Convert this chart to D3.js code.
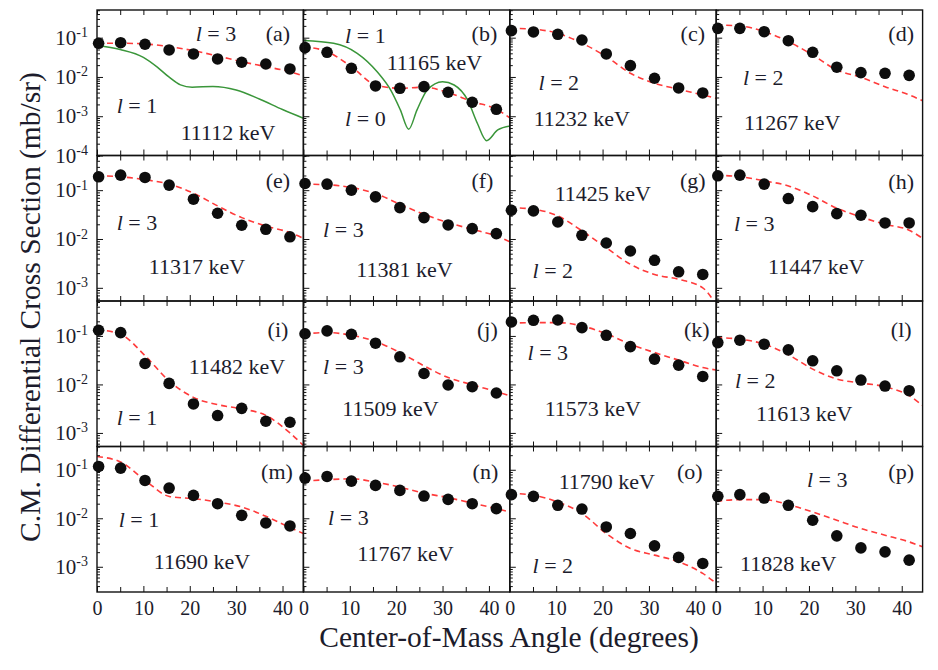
<!DOCTYPE html>
<html><head><meta charset="utf-8">
<script src="https://cdn.jsdelivr.net/npm/d3@7"></script>
<style>
body{margin:0;background:#fff}
svg{display:block}
text{font-family:"Liberation Serif","DejaVu Serif",serif;fill:#1c1c2c}
</style>
</head><body><svg id="c" width="938" height="670"></svg>
<script>
// ---------------- data ----------------
const panelLetters = ["a","b","c","d","e","f","g","h","i","j","k","l","m","n","o","p"];
const energies = ["11112 keV","11165 keV","11232 keV","11267 keV","11317 keV","11381 keV","11425 keV","11447 keV",
                  "11482 keV","11509 keV","11573 keV","11613 keV","11690 keV","11767 keV","11790 keV","11828 keV"];
const lValues = [3,1,2,2,3,3,2,3,1,3,3,2,1,3,2,3];

// measured angles (deg) of the data points
const angles = [0.35, 5.1, 10.35, 15.55, 20.8, 26.0, 31.2, 36.4, 41.6];
// angles at which the DWBA fit curves are sampled
const fitAngles = [0, 5.2, 10.4, 15.6, 20.8, 26.0, 31.2, 36.4, 41.6, 44.5];

// measured cross sections (mb/sr)
const dataA = [0.072, 0.0746, 0.068, 0.0487, 0.0385, 0.0287, 0.0237, 0.0214, 0.016];
const dataB = [0.0557, 0.0425, 0.0166, 0.0059, 0.00515, 0.00566, 0.00408, 0.00227, 0.0015];
const dataC = [0.151, 0.140, 0.122, 0.0873, 0.0385, 0.0194, 0.00927, 0.00525, 0.00392];
const dataD = [0.173, 0.173, 0.142, 0.0839, 0.0425, 0.0177, 0.0129, 0.0124, 0.0110];
const dataE = [0.188, 0.203, 0.182, 0.127, 0.0653, 0.0337, 0.0191, 0.0158, 0.0111];
const dataF = [0.137, 0.133, 0.100, 0.0728, 0.0440, 0.0274, 0.0194, 0.0163, 0.0129];
const dataG = [0.0388, 0.0376, 0.0223, 0.0119, 0.00828, 0.00568, 0.00366, 0.00213, 0.00188];
const dataH = [0.197, 0.203, 0.133, 0.0673, 0.0460, 0.0331, 0.0307, 0.0213, 0.0213];
const dataI = [0.131, 0.117, 0.027, 0.0105, 0.00396, 0.00228, 0.00321, 0.00174, 0.00166];
const dataJ = [0.111, 0.127, 0.108, 0.0708, 0.0371, 0.0168, 0.00973, 0.00897, 0.00665];
const dataK = [0.194, 0.210, 0.213, 0.148, 0.103, 0.0603, 0.0333, 0.0250, 0.0146];
const dataL = [0.0728, 0.0817, 0.0676, 0.0516, 0.0307, 0.0191, 0.0123, 0.00927, 0.00743];
const dataM = [0.117, 0.108, 0.0603, 0.0419, 0.0296, 0.0200, 0.0115, 0.00802, 0.00695];
const dataN = [0.0673, 0.0728, 0.0583, 0.0476, 0.0376, 0.0287, 0.0245, 0.0200, 0.0158];
const dataO = [0.0307, 0.0283, 0.0185, 0.0155, 0.00662, 0.00485, 0.0027, 0.00156, 0.00117];
const dataP = [0.0283, 0.0307, 0.0261, 0.0185, 0.0091, 0.00434, 0.00245, 0.00203, 0.00137];

// red dashed fits (assigned l), sampled at fitAngles
const fitA = [0.0721, 0.0721, 0.0692, 0.0590, 0.0467, 0.0342, 0.0245, 0.0183, 0.0136, 0.0106];
const fitB = [0.059, 0.0437, 0.0180, 0.00625, 0.00515, 0.00547, 0.00399, 0.00236, 0.00151, 0.00091];
const fitC = [0.173, 0.164, 0.129, 0.0721, 0.0329, 0.0124, 0.00692, 0.00486, 0.00348, 0.00287];
const fitD = [0.210, 0.199, 0.142, 0.0791, 0.0363, 0.0151, 0.00982, 0.00566, 0.00348, 0.00249];
const fitE = [0.197, 0.188, 0.163, 0.133, 0.0867, 0.0476, 0.0274, 0.0185, 0.0135, 0.0103];
const fitF = [0.133, 0.129, 0.113, 0.0851, 0.0516, 0.0321, 0.0216, 0.0158, 0.0115, 0.00881];
const fitG = [0.0440, 0.0407, 0.0296, 0.0146, 0.00662, 0.00303, 0.00188, 0.00149, 0.0010, 0.00045];
const fitH = [0.203, 0.188, 0.155, 0.122, 0.0764, 0.0427, 0.0283, 0.0200, 0.0151, 0.0103];
const fitI = [0.135, 0.107, 0.0388, 0.0117, 0.0054, 0.00383, 0.00313, 0.0023, 0.0010, 0.00055];
const fitJ = [0.111, 0.117, 0.103, 0.0764, 0.0454, 0.0242, 0.0139, 0.00986, 0.00708, 0.00586];
const fitK = [0.182, 0.188, 0.188, 0.160, 0.111, 0.0676, 0.0454, 0.0317, 0.0223, 0.0198];
const fitL = [0.0923, 0.0855, 0.0676, 0.0407, 0.0207, 0.0129, 0.0107, 0.00897, 0.00586, 0.00366];
const fitM = [0.188, 0.143, 0.0603, 0.0282, 0.0254, 0.0216, 0.0171, 0.0110, 0.00644, 0.00485];
const fitN = [0.0583, 0.0624, 0.0653, 0.0556, 0.0440, 0.0331, 0.0266, 0.0206, 0.0158, 0.0135];
const fitO = [0.0331, 0.0296, 0.0216, 0.0125, 0.00485, 0.00239, 0.00174, 0.00127, 0.00073, 0.000456];
const fitP = [0.0226, 0.0242, 0.0242, 0.0191, 0.0135, 0.0091, 0.00615, 0.00448, 0.00326, 0.00258];

// green alternative-l curves in panels (a) l=1 and (b) l=0
const altAngA = [0, 5, 10, 13, 15.5, 18, 20.5, 25, 30, 35, 40, 44.5];
const altValA = [0.0646, 0.0501, 0.0316, 0.0178, 0.0100, 0.0063, 0.0055, 0.00575, 0.00468, 0.00275, 0.00148, 0.00089];
const altAngB = [0, 6.5, 11.6, 15.9, 18.8, 20.9, 22.7, 24.5, 26.7, 30, 32.5, 35.4, 37.5, 39.5, 41.9, 44.6];
const altValB = [0.085, 0.0721, 0.0401, 0.0136, 0.00467, 0.00145, 0.000467, 0.00145, 0.00467, 0.00759, 0.00625, 0.0026, 0.000664, 0.000239, 0.000448, 0.000566];
const altL = [1, 0];

const xDomain = [0, 44.5];
const xTicks = [0, 10, 20, 30, 40];
const xMinorTicks = [5, 15, 25, 35];
const rowDomains = [[1e-4, 0.507], [0.000537, 0.513], [0.000525, 0.525], [0.000302, 0.302]];
const rowTicks = [[1e-1, 1e-2, 1e-3, 1e-4], [1e-1, 1e-2, 1e-3], [1e-1, 1e-2, 1e-3], [1e-1, 1e-2, 1e-3]];

const allData = [dataA,dataB,dataC,dataD,dataE,dataF,dataG,dataH,dataI,dataJ,dataK,dataL,dataM,dataN,dataO,dataP];
const allFits = [fitA,fitB,fitC,fitD,fitE,fitF,fitG,fitH,fitI,fitJ,fitK,fitL,fitM,fitN,fitO,fitP];

// ---------------- layout ----------------
const FONT = '"Liberation Serif","DejaVu Serif",serif';
const colX = [97, 303.4, 509.8, 716.2], pw = 206.4;
const rowY = [10, 155.5, 301, 446.5], ph = 145.5;
// label placement inside each panel (px from panel top-left): letter, energy, l-label
const letterPos = [[181,23],[181,23],[183,23],[185,23],[181,25],[179,25],[183,25],[185,26],[181,28],[184,28],[187,28],[185,28],[180,25],[182,25],[180,25],[185,25]];
const energyPos = [[131,122],[131,52],[72,108],[76,112],[100,111],[101,114],[93,38],[100,111],[140,65],[87,107],[83,107],[88,112],[105,115],[102,107],[97,35],[72,117]];
const lPos = [[119,23],[62,25],[49,72],[47,67],[40,66],[40,73],[43,114],[38,67],[40,116],[40,65],[38,51],[39,79],[42,72],[45,70],[43,118],[111,32]];
const altLPos = [[40,95],[62,108]];

const RED = "#ff3b3b", GREEN = "#3a963a", TXT = "#1c1c2c";
const svg = d3.select("#c");
const x = d3.scaleLinear().domain(xDomain).range([0, pw]);

panelLetters.forEach((letter, i) => {
  const r = Math.floor(i / 4), c = i % 4;
  const g = svg.append("g").attr("transform", `translate(${colX[c]},${rowY[r]})`);
  const y = d3.scaleLog().domain(rowDomains[r]).range([ph, 0]);

  g.append("clipPath").attr("id", "clip" + i).append("rect").attr("width", pw).attr("height", ph);
  const plot = g.append("g").attr("clip-path", `url(#clip${i})`);

  const line = d3.line().x(d => x(d[0])).y(d => y(d[1])).curve(d3.curveMonotoneX);

  if (i < 2) {
    const angs = i === 0 ? altAngA : altAngB, vals = i === 0 ? altValA : altValB;
    plot.append("path").datum(angs.map((a, k) => [a, vals[k]]))
      .attr("d", line).attr("fill", "none").attr("stroke", GREEN).attr("stroke-width", 1.5);
  }
  plot.append("path").datum(fitAngles.map((a, k) => [a, allFits[i][k]]))
    .attr("d", line).attr("fill", "none").attr("stroke", RED).attr("stroke-width", 1.6)
    .attr("stroke-dasharray", "6,4");

  g.append("g").selectAll("circle").data(angles.map((a, k) => [a, allData[i][k]])).join("circle")
    .attr("cx", d => x(d[0])).attr("cy", d => y(d[1])).attr("r", 5.8).attr("fill", "#0d0d0d");

  // axes (ticks pointing inward)
  const bottom = g.append("g").attr("transform", `translate(0,${ph})`)
    .call(d3.axisBottom(x).tickValues(xTicks).tickSizeInner(-6).tickSizeOuter(0).tickPadding(9)
      .tickFormat(r === 3 ? d3.format("d") : () => ""));
  g.append("g").attr("transform", `translate(0,${ph})`)
    .call(d3.axisBottom(x).tickValues(xMinorTicks).tickSizeInner(-5).tickSizeOuter(0).tickFormat(() => ""));
  g.append("g").call(d3.axisTop(x).tickValues(xTicks.concat(xMinorTicks)).tickSizeInner(-5).tickSizeOuter(0).tickFormat(() => ""));

  const minor = [];
  rowTicks[r].forEach(t => { for (let m = 2; m <= 9; m++) { const v = t * m; if (v < rowDomains[r][1]) minor.push(v); } });
  if (r > 0) { const t = rowTicks[r][rowTicks[r].length - 1] / 10; for (let m = 2; m <= 9; m++) { const v = t * m; if (v > rowDomains[r][0]) minor.push(v); } }
  g.append("g").call(d3.axisLeft(y).tickValues(minor).tickSizeInner(-3).tickSizeOuter(0).tickFormat(() => ""));
  const left = g.append("g").call(d3.axisLeft(y).tickValues(rowTicks[r]).tickSizeInner(-6).tickSizeOuter(0).tickPadding(9)
    .tickFormat(c === 0 ? (d => d) : () => ""));

  if (c === 0) {
    left.selectAll(".tick text").each(function (d) {
      const t = d3.select(this);
      t.text("").attr("font-size", 21).attr("fill", TXT).attr("font-family", FONT);
      t.append("tspan").text("10");
      t.append("tspan").attr("dy", "-0.55em").attr("font-size", 14).text("-" + Math.round(-Math.log10(d)));
    });
  }
  bottom.selectAll(".tick text").attr("font-size", 20).attr("fill", TXT).attr("font-family", FONT);
  g.selectAll(".domain").remove();
  g.selectAll(".tick line").attr("stroke", "#111").attr("stroke-width", 1);

  g.append("rect").attr("width", pw).attr("height", ph).attr("fill", "none").attr("stroke", "#111").attr("stroke-width", 1.4);

  // annotations
  const txt = (pos, fill) => g.append("text").attr("x", pos[0]).attr("y", pos[1])
    .attr("text-anchor", "middle").attr("dominant-baseline", "central").attr("font-size", 22)
    .attr("font-family", FONT).attr("fill", fill);
  txt(letterPos[i], TXT).text(`(${letter})`);
  txt(energyPos[i], TXT).text(energies[i]);
  const lt = txt(lPos[i], TXT);
  lt.append("tspan").attr("font-style", "italic").text("l");
  lt.append("tspan").text(" = " + lValues[i]);
  if (i < 2) {
    const at = txt(altLPos[i], GREEN);
    at.append("tspan").attr("font-style", "italic").text("l");
    at.append("tspan").text(" = " + altL[i]);
  }
});

svg.append("text").attr("transform", "translate(30,307) rotate(-90)").attr("text-anchor", "middle")
  .attr("dominant-baseline", "central").attr("font-size", 29.5).attr("font-family", FONT).attr("fill", TXT)
  .text("C.M. Differential Cross Section (mb/sr)");
svg.append("text").attr("x", 509).attr("y", 637).attr("text-anchor", "middle")
  .attr("dominant-baseline", "central").attr("font-size", 29.5).attr("font-family", FONT).attr("fill", TXT)
  .text("Center-of-Mass Angle (degrees)");
</script>
</body></html>
